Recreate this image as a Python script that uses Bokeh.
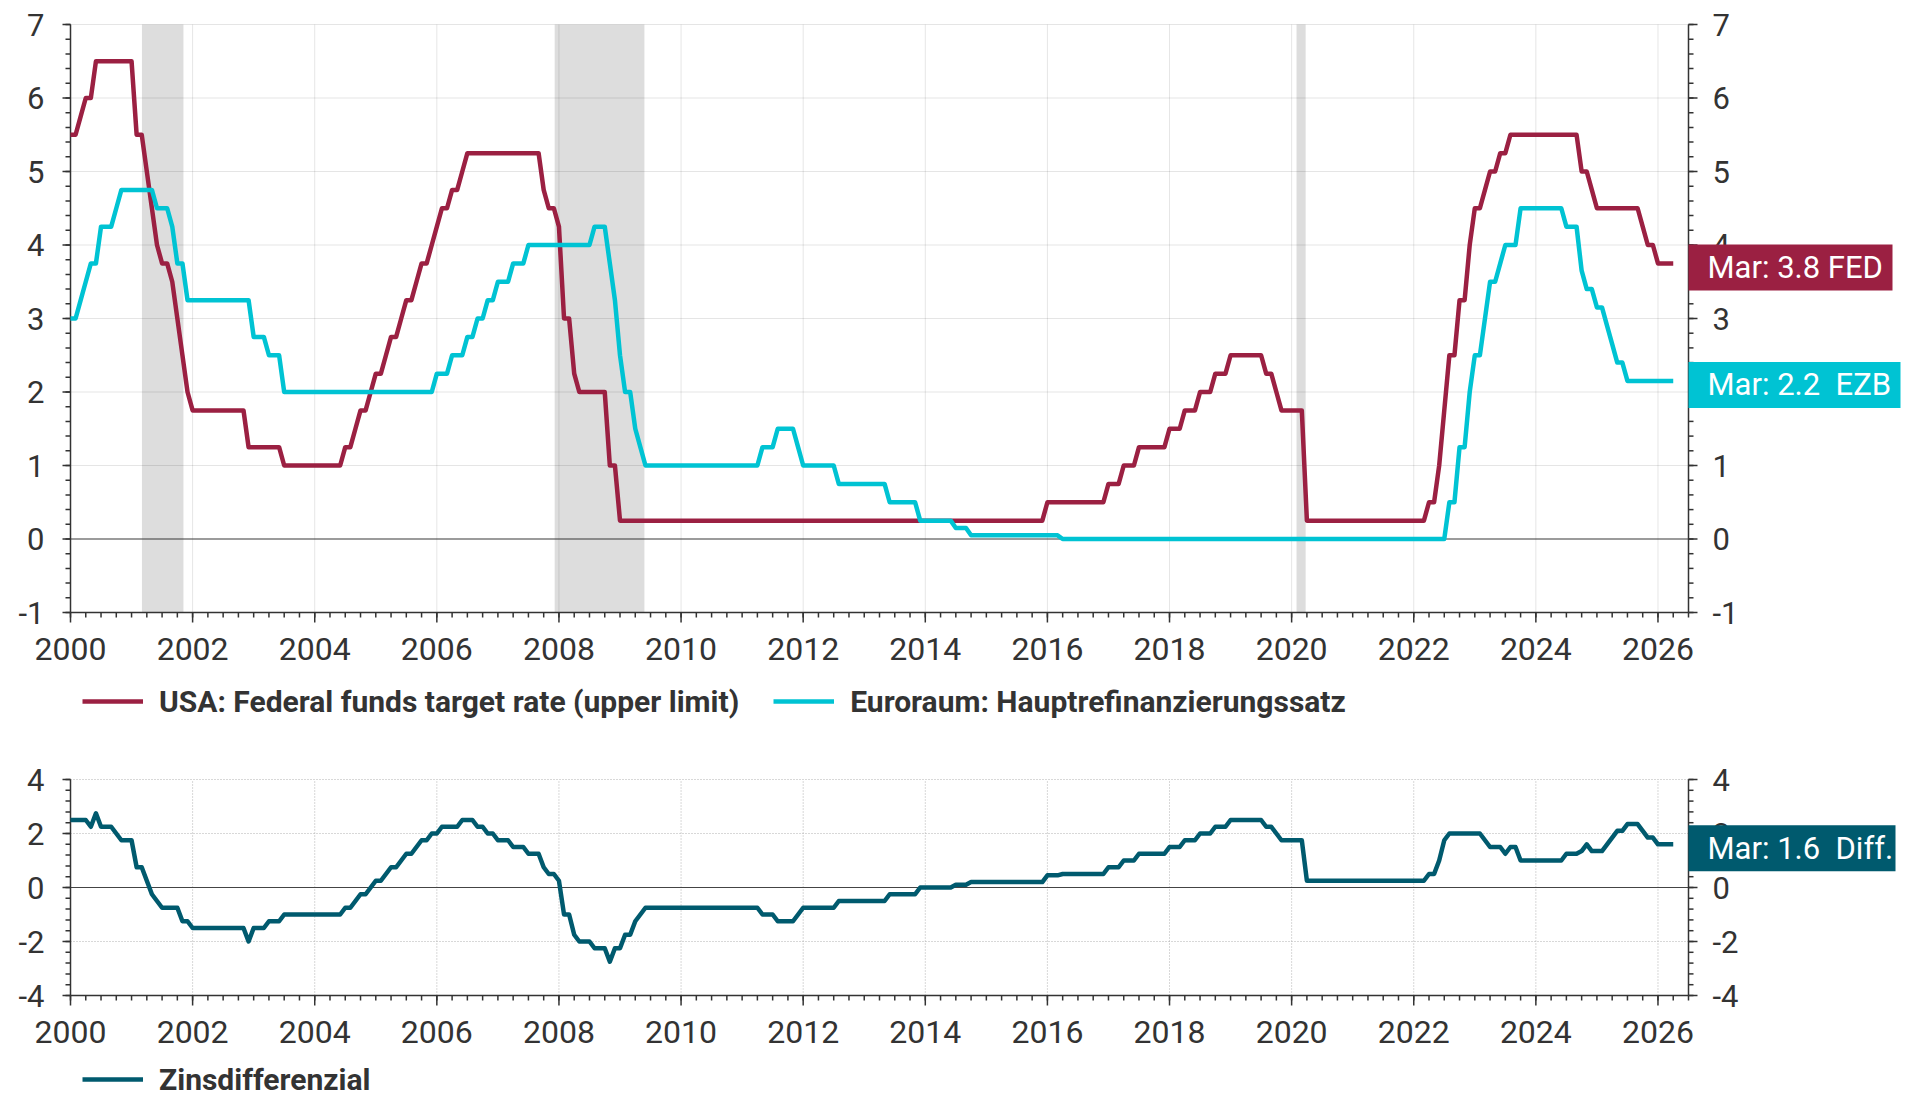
import math
from bokeh.plotting import figure
from bokeh.models import Range1d, Legend, LegendItem
from bokeh.core.properties import value
from bokeh.layouts import column
from bokeh.embed import file_html
from bokeh.resources import INLINE

# ---------------- data (month in which the rate changed -> rate at month end) ----------------
FIRST_MONTH = "1999-12"
LAST_MONTH = "2026-03"

FED_CHANGE_MONTHS = [
    "1999-12", "2000-02", "2000-03", "2000-05", "2001-01", "2001-03", "2001-04", "2001-05",
    "2001-06", "2001-08", "2001-09", "2001-10", "2001-11", "2001-12", "2002-11", "2003-06",
    "2004-06", "2004-08", "2004-09", "2004-11", "2004-12", "2005-02", "2005-03", "2005-05",
    "2005-06", "2005-08", "2005-09", "2005-11", "2005-12", "2006-01", "2006-03", "2006-05",
    "2006-06", "2007-09", "2007-10", "2007-12", "2008-01", "2008-03", "2008-04", "2008-10",
    "2008-12", "2015-12", "2016-12", "2017-03", "2017-06", "2017-12", "2018-03", "2018-06",
    "2018-09", "2018-12", "2019-07", "2019-09", "2019-10", "2020-03", "2022-03", "2022-05",
    "2022-06", "2022-07", "2022-09", "2022-11", "2022-12", "2023-02", "2023-03", "2023-05",
    "2023-07", "2024-09", "2024-11", "2024-12", "2025-09", "2025-10", "2025-12",
]
FED_CHANGE_RATES = [
    5.5, 5.75, 6.0, 6.5, 5.5, 5.0, 4.5, 4.0,
    3.75, 3.5, 3.0, 2.5, 2.0, 1.75, 1.25, 1.0,
    1.25, 1.5, 1.75, 2.0, 2.25, 2.5, 2.75, 3.0,
    3.25, 3.5, 3.75, 4.0, 4.25, 4.5, 4.75, 5.0,
    5.25, 4.75, 4.5, 4.25, 3.0, 2.25, 2.0, 1.0,
    0.25, 0.5, 0.75, 1.0, 1.25, 1.5, 1.75, 2.0,
    2.25, 2.5, 2.25, 2.0, 1.75, 0.25, 0.5, 1.0,
    1.75, 2.5, 3.25, 4.0, 4.5, 4.75, 5.0, 5.25,
    5.5, 5.0, 4.75, 4.5, 4.25, 4.0, 3.75,
]

EZB_CHANGE_MONTHS = [
    "1999-12", "2000-02", "2000-03", "2000-04", "2000-06", "2000-09", "2000-10", "2001-05",
    "2001-08", "2001-09", "2001-11", "2002-12", "2003-03", "2003-06", "2005-12", "2006-03",
    "2006-06", "2006-08", "2006-10", "2006-12", "2007-03", "2007-06", "2008-07", "2008-10",
    "2008-11", "2008-12", "2009-01", "2009-03", "2009-04", "2009-05", "2011-04", "2011-07",
    "2011-11", "2011-12", "2012-07", "2013-05", "2013-11", "2014-06", "2014-09", "2016-03",
    "2022-07", "2022-09", "2022-11", "2022-12", "2023-02", "2023-03", "2023-05", "2023-06",
    "2023-09", "2024-06", "2024-09", "2024-10", "2024-12", "2025-02", "2025-03", "2025-04",
    "2025-06",
]
EZB_CHANGE_RATES = [
    3.0, 3.25, 3.5, 3.75, 4.25, 4.5, 4.75, 4.5,
    4.25, 3.75, 3.25, 2.75, 2.5, 2.0, 2.25, 2.5,
    2.75, 3.0, 3.25, 3.5, 3.75, 4.0, 4.25, 3.75,
    3.25, 2.5, 2.0, 1.5, 1.25, 1.0, 1.25, 1.5,
    1.25, 1.0, 0.75, 0.5, 0.25, 0.15, 0.05, 0.0,
    0.5, 1.25, 2.0, 2.5, 3.0, 3.5, 3.75, 4.0,
    4.5, 4.25, 3.65, 3.4, 3.15, 2.9, 2.65, 2.4,
    2.15,
]

RECESSION_STARTS = [2001.17, 2007.93, 2020.08]
RECESSION_ENDS = [2001.85, 2009.40, 2020.23]

X_TICKS = [2000, 2002, 2004, 2006, 2008, 2010, 2012, 2014, 2016, 2018, 2020, 2022, 2024, 2026]
TOP_Y_TICKS = [-1, 0, 1, 2, 3, 4, 5, 6, 7]
BOT_Y_TICKS = [-4, -2, 0, 2, 4]

LEGEND_FED = "USA: Federal funds target rate (upper limit)"
LEGEND_EZB = "Euroraum: Hauptrefinanzierungssatz"
LEGEND_DIFF = "Zinsdifferenzial"
LABEL_FED = "Mar: 3.8 FED"
LABEL_EZB = "Mar: 2.2\u00a0 EZB"
LABEL_DIFF = "Mar: 1.6\u00a0 Diff."

# ---------------- build monthly series ----------------
def month_seq(first, last):
    y, m = map(int, first.split("-"))
    ly, lm = map(int, last.split("-"))
    out = []
    while (y, m) <= (ly, lm):
        out.append((y, m))
        m += 1
        if m > 12:
            y, m = y + 1, 1
    return out

def step_series(months, change_months, change_rates):
    changes = {tuple(map(int, s.split("-"))): r for s, r in zip(change_months, change_rates)}
    vals, cur = [], None
    for ym in months:
        if ym in changes:
            cur = changes[ym]
        vals.append(cur)
    return vals

MONTHS = month_seq(FIRST_MONTH, LAST_MONTH)
X = [y + m / 12 for y, m in MONTHS]          # month-end position
FED = step_series(MONTHS, FED_CHANGE_MONTHS, FED_CHANGE_RATES)
EZB = step_series(MONTHS, EZB_CHANGE_MONTHS, EZB_CHANGE_RATES)
DIFF = [round(a - b, 2) for a, b in zip(FED, EZB)]

X_START, X_END = 2000, 2026.5
X_MINOR = [X_START + q / 4 for q in range(int((X_END - X_START) * 4) + 1)]

# ---------------- styling / layout ----------------
FONT = "Roboto"
TXT = "#333333"
AXC = "#333333"
C_FED = "#9b2042"
C_EZB = "#00c3d3"
C_DIFF = "#005a6e"
W = 1904
LW = 4.5
LEFT = 70                      # pixel position of X_START
PLOT_W = 1618                  # pixel width from X_START to X_END
PX_PER_YEAR = PLOT_W / (X_END - X_START)
X_LEFT = X_START - LEFT / PX_PER_YEAR
X_RIGHT = X_START + (W - LEFT) / PX_PER_YEAR
LEG_H = 36


def make_panel(height, y_lo, y_hi, top_px, bottom_px, y_ticks, grid_kw):
    """Figure whose frame covers the whole canvas; y_lo..y_hi drawn from top_px to bottom_px."""
    pxu = (bottom_px - top_px) / (y_hi - y_lo)
    yr = Range1d(y_lo - (height - bottom_px) / pxu, y_hi + top_px / pxu)
    p = figure(width=W, height=height, x_range=Range1d(X_LEFT, X_RIGHT), y_range=yr,
               output_backend="svg", toolbar_location=None,
               x_axis_location=None, y_axis_location=None,
               min_border_left=0, min_border_right=0, min_border_top=0, min_border_bottom=0)
    p.outline_line_color = None
    p.grid.visible = False
    # grid limited to the plot rectangle
    p.segment(x0=X_TICKS, x1=X_TICKS, y0=y_lo, y1=y_hi, **grid_kw)
    p.segment(x0=X_START, x1=X_END, y0=y_ticks, y1=y_ticks, **grid_kw)
    return p, pxu


def finish_axes(p, y_lo, y_hi, y_ticks, y_minor):
    ak = dict(line_color=AXC, line_width=1.5)
    tk = dict(text_color=TXT, text_font=value(FONT), text_baseline="middle")
    # zero line
    p.segment(x0=X_START, x1=X_END, y0=0, y1=0, line_color="#444444", line_width=1.2)
    # bottom x axis at y_lo
    p.segment(x0=X_START, x1=X_END, y0=y_lo, y1=y_lo, **ak)
    p.ray(x=X_TICKS, y=y_lo, length=10, length_units="screen", angle=-math.pi / 2, **ak)
    p.ray(x=X_MINOR, y=y_lo, length=5, length_units="screen", angle=-math.pi / 2, **ak)
    p.text(x=X_TICKS, y=y_lo, text=[str(t) for t in X_TICKS], y_offset=36,
           text_align="center", text_font_size=value("32px"), **tk)
    # left y axis at X_START
    p.segment(x0=X_START, x1=X_START, y0=y_lo, y1=y_hi, **ak)
    p.ray(x=X_START, y=y_ticks, length=8, length_units="screen", angle=math.pi, **ak)
    p.ray(x=X_START, y=y_minor, length=5, length_units="screen", angle=math.pi, **ak)
    p.text(x=X_START, y=y_ticks, text=[str(t) for t in y_ticks], x_offset=-26,
           text_align="right", text_font_size=value("31px"), **tk)
    # right y axis at X_END
    p.segment(x0=X_END, x1=X_END, y0=y_lo, y1=y_hi, **ak)
    p.ray(x=X_END, y=y_ticks, length=9, length_units="screen", angle=0, **ak)
    p.ray(x=X_END, y=y_minor, length=5, length_units="screen", angle=0, **ak)
    p.text(x=X_END, y=y_ticks, text=[str(t) for t in y_ticks], x_offset=24,
           text_align="left", text_font_size=value("31px"), **tk)


def value_label(p, yv, text, color, box_w, pxu):
    p.quad(left=X_END, right=X_END + box_w / PX_PER_YEAR,
           top=yv + 19 / pxu, bottom=yv - 27 / pxu,
           fill_color=color, line_color=None)
    p.text(x=X_END, y=yv, text=[text], x_offset=19, y_offset=4,
           text_align="left", text_baseline="middle", text_color="white",
           text_font=value(FONT), text_font_size=value("31px"))


def add_legend(p, items, center_from_bottom):
    lg = Legend(items=items, orientation="horizontal",
                location=(82, center_from_bottom - LEG_H // 2),
                margin=0, padding=0, spacing=34,
                glyph_width=61, glyph_height=LEG_H, label_height=LEG_H, label_standoff=16,
                label_text_font=FONT, label_text_font_style="bold",
                label_text_font_size="30px", label_text_color=TXT,
                label_text_baseline="middle",
                border_line_color=None, background_fill_alpha=0)
    p.add_layout(lg)

# ---------------- top panel ----------------
H1 = 735
TOP_MINOR = [v / 5 for v in range(-5, 36)]
p1, pxu1 = make_panel(H1, -1, 7, 24, 612, TOP_Y_TICKS,
                      dict(line_color="black", line_alpha=0.1, line_width=1))
# recession shading below the grid
r_rec = p1.quad(left=RECESSION_STARTS, right=RECESSION_ENDS, bottom=-1, top=7,
                fill_color="black", fill_alpha=0.135, line_color=None)
p1.renderers.insert(0, p1.renderers.pop())

finish_axes(p1, -1, 7, TOP_Y_TICKS, TOP_MINOR)
r_fed = p1.line(X, FED, line_color=C_FED, line_width=LW, line_join="round")
r_ezb = p1.line(X, EZB, line_color=C_EZB, line_width=LW, line_join="round")
value_label(p1, FED[-1], LABEL_FED, C_FED, 204, pxu1)
value_label(p1, EZB[-1], LABEL_EZB, C_EZB, 212, pxu1)
add_legend(p1, [LegendItem(label=LEGEND_FED, renderers=[r_fed]),
                LegendItem(label=LEGEND_EZB, renderers=[r_ezb])], H1 - 701)

# ---------------- bottom panel ----------------
H2 = 361
BOT_MINOR = [v * 0.4 for v in range(-10, 11)]
p2, pxu2 = make_panel(H2, -4, 4, 44, 260, BOT_Y_TICKS,
                      dict(line_color="#b0b0b0", line_width=1, line_dash="1 2"))
finish_axes(p2, -4, 4, BOT_Y_TICKS, BOT_MINOR)
r_diff = p2.line(X, DIFF, line_color=C_DIFF, line_width=LW, line_join="round")
value_label(p2, DIFF[-1], LABEL_DIFF, C_DIFF, 207, pxu2)
add_legend(p2, [LegendItem(label=LEGEND_DIFF, renderers=[r_diff])], 17)

layout = column(p1, p2)
open("out.html", "w").write(file_html(layout, INLINE))
